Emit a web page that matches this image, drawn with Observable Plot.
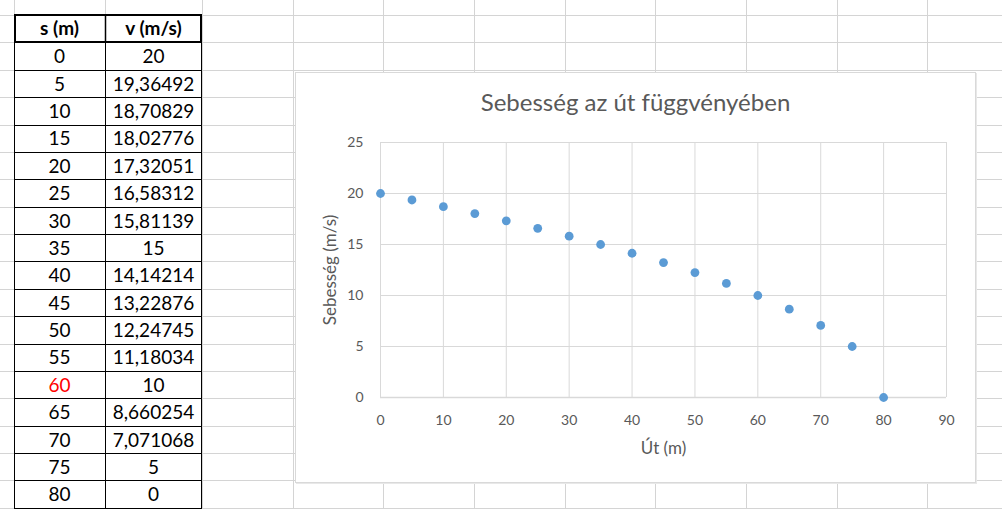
<!DOCTYPE html>
<html>
<head>
<meta charset="utf-8">
<script src="https://cdn.jsdelivr.net/npm/d3@7"></script>
<script src="https://cdn.jsdelivr.net/npm/@observablehq/plot@0.6"></script>
<style>
  html, body { margin: 0; padding: 0; background: #fff; }
  #sheet { position: relative; width: 1002px; height: 509px; overflow: hidden; font-family: Lato, "Open Sans", sans-serif; }
  #grid { position: absolute; left: 0; top: 0; }
  #chart { position: absolute; left: 295px; top: 72px; width: 679px; height: 409px; border: 1px solid #d9d9d9; background: #fff; box-shadow: 1px 1px 0 #e8e8e8; }
  #chart svg { display: block; }
</style>
</head>
<body>
<div id="sheet">
  <svg id="grid" width="1002" height="509"></svg>
  <div id="chart"></div>
</div>
<script>
// Distance (m) and speed (m/s)
const distance = [0, 5, 10, 15, 20, 25, 30, 35, 40, 45, 50, 55, 60, 65, 70, 75, 80];
const speed = [20, 19.36492, 18.70829, 18.02776, 17.32051, 16.58312, 15.81139, 15, 14.14214, 13.22876, 12.24745, 11.18034, 10, 8.660254, 7.071068, 5, 0];
const headers = ["s (m)", "v (m/s)"];
const xTicks = [0, 10, 20, 30, 40, 50, 60, 70, 80, 90];
const yTicks = [0, 5, 10, 15, 20, 25];
const chartTitle = "Sebesség az út függvényében";
const xLabel = "Út (m)";
const yLabel = "Sebesség (m/s)";

const data = distance.map((s, i) => ({s, v: speed[i]}));
const huNum = (n) => String(n).replace(".", ",");

// --- worksheet background: cell gridlines and the data table ---
const svg = d3.select("#grid");
const rowTop = 15, rowH = 27.38;
const colEdges = [14, 105.3, 202];
for (let x = 292.7; x < 1010; x += 90.67) colEdges.push(x);
const rowEdges = d3.range(-1, 20).map(k => rowTop + rowH * k);

svg.append("g").attr("stroke", "#d4d4d4").attr("shape-rendering", "crispEdges")
  .call(g => g.selectAll("line.h").data(rowEdges).join("line")
    .attr("x1", 0).attr("x2", 1002).attr("y1", d => Math.round(d) + 0.5).attr("y2", d => Math.round(d) + 0.5))
  .call(g => g.selectAll("line.v").data(colEdges).join("line")
    .attr("y1", 0).attr("y2", 509).attr("x1", d => Math.round(d) + 0.5).attr("x2", d => Math.round(d) + 0.5));

const tbl = svg.append("g").attr("font-family", "Lato, 'Open Sans', sans-serif").attr("font-size", 19);
const colA = [14, 105], colB = [105, 202];
const rowsY = (i) => rowTop + rowH * (i + 1); // top of data row i

// white cell fill behind table
tbl.append("rect").attr("x", 14).attr("y", 14).attr("width", 188).attr("height", 520).attr("fill", "#fff");

// body borders
const bodyRows = d3.range(data.length + 1);
tbl.selectAll("line.rb").data(bodyRows).join("line")
  .attr("x1", 14).attr("x2", 202)
  .attr("y1", i => Math.round(rowsY(i + 1)) + 0.5).attr("y2", i => Math.round(rowsY(i + 1)) + 0.5)
  .attr("stroke", "#000").attr("shape-rendering", "crispEdges");
[14, 105, 201].forEach(x => tbl.append("line").attr("x1", x + 0.5).attr("x2", x + 0.5).attr("y1", 42).attr("y2", 520)
  .attr("stroke", "#000").attr("shape-rendering", "crispEdges"));

// header box with medium border
tbl.append("rect").attr("x", 15).attr("y", 15).attr("width", 186).attr("height", 27)
  .attr("fill", "none").attr("stroke", "#000").attr("stroke-width", 2);
tbl.append("line").attr("x1", 105.5).attr("x2", 105.5).attr("y1", 15).attr("y2", 42).attr("stroke", "#000").attr("stroke-width", 1.5);

tbl.selectAll("text.h").data(headers).join("text")
  .attr("x", (d, i) => i ? (colB[0] + colB[1]) / 2 : (colA[0] + colA[1]) / 2)
  .attr("y", 28.5).attr("dy", "0.35em").attr("text-anchor", "middle")
  .attr("font-weight", "bold").attr("fill", "#000").text(d => d);

tbl.selectAll("text.s").data(data).join("text")
  .attr("x", (colA[0] + colA[1]) / 2).attr("y", (d, i) => rowsY(i) + rowH / 2 + 0.5)
  .attr("dy", "0.35em").attr("text-anchor", "middle")
  .attr("fill", d => d.s === 60 ? "#ff0000" : "#000").text(d => d.s);

tbl.selectAll("text.v").data(data).join("text")
  .attr("x", (colB[0] + colB[1]) / 2).attr("y", (d, i) => rowsY(i) + rowH / 2 + 0.5)
  .attr("dy", "0.35em").attr("text-anchor", "middle")
  .attr("fill", "#000").text(d => huNum(d.v));

// --- scatter chart ---
const ink = "#595959";
const chart = Plot.plot({
  width: 679,
  height: 409,
  marginLeft: 84,
  marginRight: 29,
  marginTop: 69,
  marginBottom: 85,
  style: {fontFamily: "Lato, 'Open Sans', sans-serif", fontSize: "14px", color: ink, background: "#fff"},
  x: {domain: [0, 90]},
  y: {domain: [0, 25]},
  marks: [
    Plot.gridX(xTicks, {stroke: "#d9d9d9", strokeOpacity: 1}),
    Plot.gridY(yTicks, {stroke: "#d9d9d9", strokeOpacity: 1}),
    Plot.ruleY([0], {stroke: "#d9d9d9", strokeWidth: 1.5}),
    Plot.axisX(xTicks, {tickSize: 0, tickPadding: 18, label: null, fill: ink}),
    Plot.axisY(yTicks, {tickSize: 0, tickPadding: 17, label: null, fill: ink}),
    Plot.dot(data, {x: "s", y: "v", r: 4.4, fill: "#5b9bd5", stroke: "none"}),
    Plot.text([chartTitle], {frameAnchor: "top", dx: -28, dy: -39, fontSize: 24, fill: ink, lineAnchor: "middle"}),
    Plot.text([xLabel], {frameAnchor: "bottom", dy: 51, fontSize: 17, fill: ink, lineAnchor: "middle"}),
    Plot.text([yLabel], {frameAnchor: "left", dx: -50, rotate: -90, fontSize: 17, fill: ink, textAnchor: "middle", lineAnchor: "middle"})
  ]
});
document.getElementById("chart").appendChild(chart);
</script>
</body>
</html>
